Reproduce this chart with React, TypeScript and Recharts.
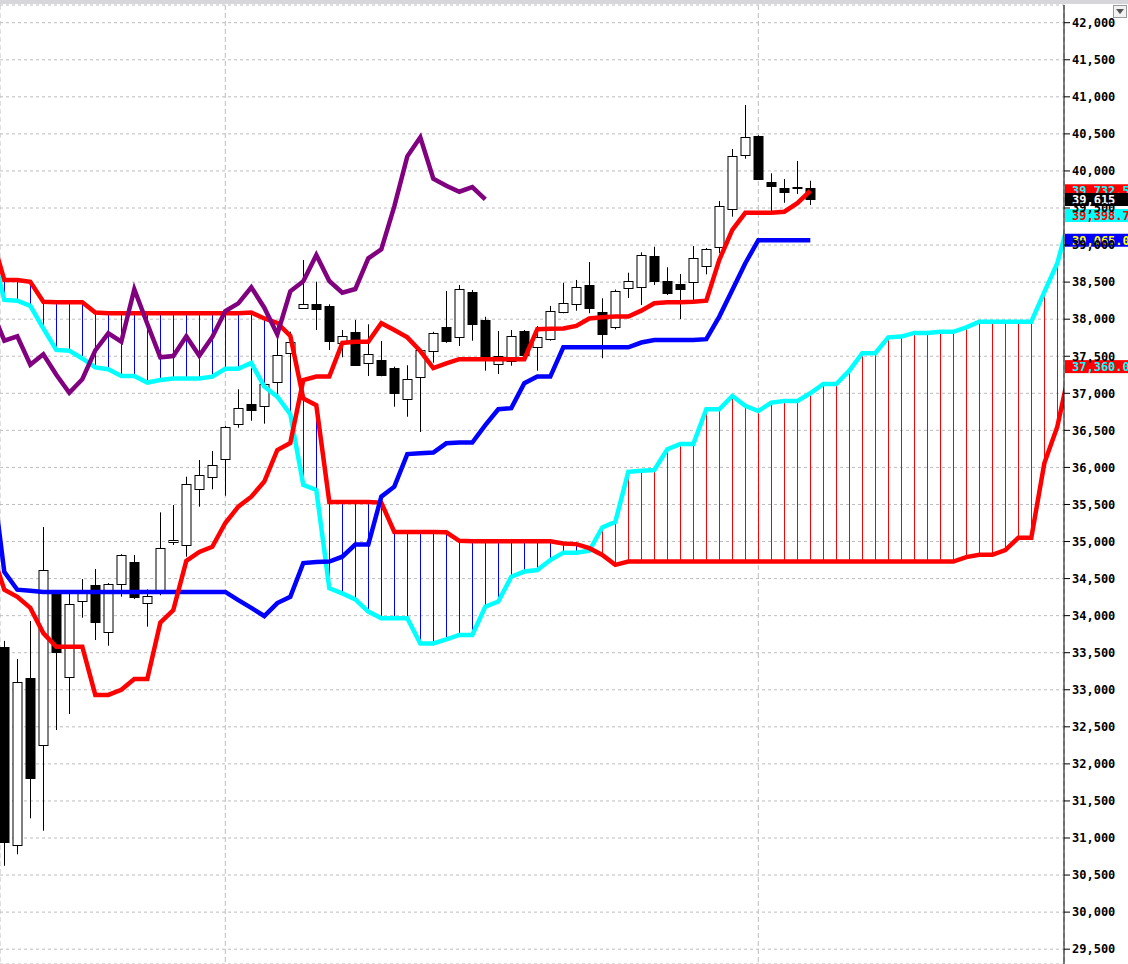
import React from "react";
import {
  ComposedChart,
  Bar,
  Line,
  XAxis,
  YAxis,
  CartesianGrid,
  ReferenceLine,
} from "recharts";

// daily candles, slot 0..62
const opens = [
  33578, 30896, 33155, 32251, 34302, 33168, 34194, 34409, 33775, 34423,
  34720, 34180, 34302, 34990, 34949, 35705, 35867, 36109, 36582, 36851,
  36824, 37148, 37540, 38151, 38209, 38178, 37674, 37827, 37399, 37449,
  37341, 36919, 37216, 37567, 37890, 37755, 38367, 37985, 37391, 37432,
  37836, 37621, 37728, 38093, 38201, 38461, 38093, 37890, 38417, 38438,
  38852, 38515, 38470, 38497, 38713, 38970, 39482, 40211, 40471, 39851,
  39770, 39790, 39770,
];
const highs = [
  33659, 33415, 33928, 35196, 34310, 34346, 34494, 34629, 34440, 34830,
  34819, 34355, 35394, 35493, 35875, 36100, 36221, 36560, 37054, 37337,
  37140, 37854, 37831, 38798, 38506, 38201, 37854, 37989, 37931, 37706,
  37360, 37378, 37600, 37830, 38380, 38461, 38394, 38033, 37840, 37854,
  37854, 37908, 38178, 38492, 38529, 38771, 38282, 38400, 38627, 38902,
  38978, 38700, 38609, 38987, 38960, 39594, 40296, 40890, 40480, 39968,
  39891, 40134, 39868,
];
const lows = [
  30626, 30780, 31266, 31098, 32457, 32673, 33972, 33671, 33594, 34256,
  34224, 33851, 34275, 34953, 34795, 35470, 35705, 35618, 36536, 36630,
  36590, 37140, 37291, 38140, 37854, 37584, 37486, 37370, 37233, 37230,
  36819, 36684, 36478, 37413, 37680, 37638, 37710, 37305, 37260, 37372,
  37459, 37305, 37710, 38080, 38114, 38080, 37472, 37863, 38286, 38191,
  38461, 38326, 38002, 38222, 38605, 38889, 39383, 40165, 39880, 39437,
  39571, 39689, 39540,
];
const closes = [
  30948, 33101, 31800, 34612, 33500, 34153, 34342, 33905, 34423, 34814,
  34242, 34269, 34909, 35017, 35772, 35894, 36028, 36541, 36797, 36770,
  37121, 37513, 37688, 38205, 38141, 37710, 37769, 37386, 37526, 37251,
  37008, 37189, 37580, 37809, 37696, 38403, 37939, 37486, 37503, 37769,
  37507, 37760, 38110, 38214, 38430, 38155, 37796, 38376, 38511, 38866,
  38515, 38357, 38407, 38821, 38943, 39523, 40197, 40454, 39895, 39801,
  39720, 39783, 39615,
];

// indicator lines, all start at slot -1 (just off the left edge)
const tenkan = [
  34890, 34350, 34255, 34105, 33765, 33580, 33580, 33580, 32930, 32930,
  33000, 33145, 33145, 33905, 34075, 34740, 34860, 34930, 35250, 35470,
  35605, 35810, 36235, 36330, 37180, 37225, 37225, 37680, 37695, 37695,
  37945, 37855, 37755, 37570, 37340, 37405, 37460, 37460, 37460, 37460,
  37460, 37460, 37865, 37870, 37875, 37910, 38010, 38025, 38035, 38035,
  38115, 38215, 38230, 38230, 38235, 38250, 38800, 39205, 39435, 39435,
  39435, 39450, 39565, 39732.5,
];
const kijun = [
  35990, 34590, 34350, 34335, 34320, 34320, 34320, 34320, 34320, 34320,
  34320, 34320, 34320, 34320, 34320, 34320, 34320, 34320, 34320, 34210,
  34105, 33995, 34170, 34255, 34710, 34725, 34730, 34795, 34960, 34960,
  35605, 35740, 36180, 36190, 36200, 36325, 36335, 36335, 36570, 36785,
  36800, 37135, 37225, 37225, 37620, 37620, 37620, 37620, 37620, 37620,
  37685, 37720, 37720, 37720, 37720, 37730, 38035, 38395, 38755, 39065,
  39065, 39065, 39065, 39065,
];
const chikou = [
  38141, 37710, 37769, 37386, 37526, 37251, 37008, 37189, 37580, 37809,
  37696, 38403, 37939, 37486, 37503, 37769, 37507, 37760, 38110, 38214,
  38430, 38155, 37796, 38376, 38511, 38866, 38515, 38357, 38407, 38821,
  38943, 39523, 40197, 40454, 39895, 39801, 39720, 39783, 39615,
];
const spanA = [
  39135, 38530, 38530, 38505, 38235, 38230, 38230, 38230, 38090, 38080,
  38080, 38080, 38080, 38080, 38080, 38080, 38080, 38080, 38080, 38080,
  38090, 38010, 37950, 37775, 36930, 36840, 35535, 35535, 35535, 35535,
  35525, 35130, 35130, 35130, 35130, 35125, 35010, 35005, 35005, 35005,
  35005, 35005, 35005, 35005, 34975, 34965, 34910, 34820, 34685, 34730,
  34730, 34730, 34730, 34730, 34730, 34730, 34730, 34730, 34730, 34730,
  34730, 34730, 34730, 34730, 34730, 34730, 34730, 34730, 34730, 34730,
  34730, 34730, 34730, 34730, 34730, 34790, 34820, 34820, 34885, 35050,
  35050, 36055, 36550, 37360,
];
const spanB = [
  38960, 38260, 38250, 38180, 37875, 37585, 37575, 37470, 37350, 37325,
  37235, 37235, 37145, 37180, 37200, 37200, 37200, 37225, 37330, 37330,
  37410, 37090, 36955, 36720, 35765, 35695, 34370, 34300, 34220, 34055,
  33965, 33965, 33965, 33625, 33625, 33680, 33740, 33740, 34120, 34190,
  34525, 34595, 34615, 34750, 34850, 34850, 34875, 35190, 35265, 35940,
  35955, 35965, 36245, 36315, 36315, 36785, 36785, 36965, 36830, 36760,
  36875, 36895, 36895, 37000, 37125, 37125, 37305, 37540, 37540, 37755,
  37765, 37815, 37815, 37830, 37830, 37890, 37965, 37965, 37965, 37965,
  37965, 38365, 38755, 39398.7,
];

const yTicks = [
  29500, 30000, 30500, 31000, 31500, 32000, 32500, 33000, 33500, 34000,
  34500, 35000, 35500, 36000, 36500, 37000, 37500, 38000, 38500, 39000,
  39500, 40000, 40500, 41000, 41500, 42000,
];
const monthStarts = [17, 58];

const FIRST_SLOT = -1;
const X_DOMAIN = [-0.331, 81.515];
const Y_DOMAIN = [29300, 42239];
const MONO = '"DejaVu Sans Mono", "Liberation Mono", monospace';

const rows = spanA.map((a, k) => {
  const slot = k + FIRST_SLOT;
  const b = spanB[k];
  const c = slot >= 0 && slot < closes.length ? slot : -1;
  return {
    slot,
    spanA: a,
    spanB: b,
    hatch: [Math.min(a, b), Math.max(a, b)],
    tenkan: tenkan[k],
    kijun: kijun[k],
    chikou: chikou[k],
    open: c >= 0 ? opens[c] : undefined,
    high: c >= 0 ? highs[c] : undefined,
    low: c >= 0 ? lows[c] : undefined,
    close: c >= 0 ? closes[c] : undefined,
    range: c >= 0 ? [lows[c], highs[c]] : undefined,
  };
});

const fmt1 = (v: number) =>
  v.toLocaleString("en-US", { minimumFractionDigits: 1, maximumFractionDigits: 1 });
const fmt0 = (v: number) => v.toLocaleString("en-US");

const tags = [
  { value: tenkan[tenkan.length - 1], text: fmt1(tenkan[tenkan.length - 1]), bg: "#ff0000", fg: "#00ffff" },
  { value: closes[closes.length - 1], text: fmt0(closes[closes.length - 1]), bg: "#000000", fg: "#ffffff" },
  { value: spanB[spanB.length - 1], text: fmt1(spanB[spanB.length - 1]), bg: "#00ffff", fg: "#ff0000" },
  { value: kijun[kijun.length - 1], text: fmt1(kijun[kijun.length - 1]), bg: "#0000ff", fg: "#ffff00" },
  { value: spanA[spanA.length - 1], text: fmt1(spanA[spanA.length - 1]), bg: "#ff0000", fg: "#00ffff" },
];

function HatchShape(props: any) {
  const { x, y, width, height, payload } = props;
  if (!payload || payload.hatch == null || !isFinite(y) || !isFinite(height)) return null;
  const cx = Math.floor(x + width / 2) + 0.5;
  const color = payload.spanA > payload.spanB ? "#0000ff" : "#ff0000";
  const top = Math.min(y, y + height);
  const bottom = Math.max(y, y + height);
  return <line x1={cx} x2={cx} y1={top} y2={bottom} stroke={color} strokeWidth={1} />;
}

function CandleShape(props: any) {
  const { x, y, width, height, payload } = props;
  if (!payload || payload.open == null || !isFinite(y) || !isFinite(height)) return null;
  const { open, close, high, low } = payload;
  const top0 = Math.min(y, y + height);
  const h = Math.abs(height);
  const span = high - low || 1;
  const toPx = (v: number) => top0 + ((high - v) / span) * h;
  const cx = Math.floor(x + width / 2) + 0.5;
  const bodyTop = toPx(Math.max(open, close));
  const bodyBottom = toPx(Math.min(open, close));
  const up = close > open;
  return (
    <g>
      <line x1={cx} x2={cx} y1={top0} y2={top0 + h} stroke="#000" strokeWidth={1} />
      <rect
        x={cx - 4.5}
        y={Math.round(bodyTop) + 0.5}
        width={9}
        height={Math.max(1, Math.round(bodyBottom - bodyTop))}
        fill={up ? "#ffffff" : "#000000"}
        stroke="#000"
        strokeWidth={1}
      />
    </g>
  );
}

function makeTag(text: string, bg: string, fg: string) {
  return (props: any) => {
    const vb = props.viewBox || {};
    const x0 = (vb.x ?? 0) + (vb.width ?? 0) + 1;
    const yc = vb.y ?? 0;
    return (
      <g>
        <rect x={x0} y={yc - 6.5} width={70} height={13} fill={bg} />
        <text
          x={x0 + 7}
          y={yc}
          dy="0.36em"
          fill={fg}
          fontFamily={MONO}
          fontWeight="bold"
          fontSize={12}
        >
          {text}
        </text>
      </g>
    );
  };
}

function IchimokuChart() {
  return (
    <ComposedChart
      width={1128}
      height={964}
      data={rows}
      margin={{ top: 5, right: 0, bottom: 0, left: 0 }}
    >
      <XAxis xAxisId="c" dataKey="slot" type="number" domain={X_DOMAIN} allowDataOverflow hide ticks={monthStarts} />
      <XAxis xAxisId="h" dataKey="slot" type="number" domain={X_DOMAIN} allowDataOverflow hide ticks={monthStarts} />
      <YAxis
        orientation="right"
        width={64}
        domain={Y_DOMAIN}
        allowDataOverflow
        ticks={yTicks}
        interval={0}
        tickFormatter={(v: number) => fmt0(v)}
        tickSize={6}
        tickMargin={2}
        axisLine={{ stroke: "#000" }}
        tickLine={{ stroke: "#000" }}
        tick={{ fill: "#000", fontSize: 12, fontFamily: MONO, fontWeight: "bold", textAnchor: "start" }}
      />
      <CartesianGrid xAxisId="c" vertical={false} stroke="#bdbdbd" strokeDasharray="3 3" />
      <CartesianGrid xAxisId="c" horizontal={false} stroke="#bdbdbd" strokeDasharray="5 3" />

      <Bar xAxisId="h" dataKey="hatch" barSize={2} shape={(p: any) => <HatchShape {...p} />} isAnimationActive={false} />

      <Line xAxisId="c" type="linear" dataKey="spanB" stroke="#00ffff" strokeWidth={4.5} dot={false} activeDot={false} isAnimationActive={false} />
      <Line xAxisId="c" type="linear" dataKey="spanA" stroke="#ff0000" strokeWidth={4.5} dot={false} activeDot={false} isAnimationActive={false} />
      <Line xAxisId="c" type="linear" dataKey="chikou" stroke="#800080" strokeWidth={4.5} dot={false} activeDot={false} isAnimationActive={false} />
      <Line xAxisId="c" type="linear" dataKey="kijun" stroke="#0000ff" strokeWidth={4.5} dot={false} activeDot={false} isAnimationActive={false} />
      <Line xAxisId="c" type="linear" dataKey="tenkan" stroke="#ff0000" strokeWidth={4.5} dot={false} activeDot={false} isAnimationActive={false} />

      <Bar xAxisId="c" dataKey="range" barSize={9} shape={(p: any) => <CandleShape {...p} />} isAnimationActive={false} />

      {tags.map((t, i) => (
        <ReferenceLine
          key={"tag-" + i}
          xAxisId="c"
          y={t.value}
          stroke="none"
          label={makeTag(t.text, t.bg, t.fg)}
        />
      ))}
    </ComposedChart>
  );
}

export default function App() {
  return (
    <div
      style={{
        position: "absolute",
        left: 0,
        top: 0,
        width: 1128,
        height: 964,
        background: "#ffffff",
        overflow: "hidden",
      }}
    >
      <IchimokuChart />
      <div style={{ position: "absolute", left: 0, top: 0, width: 1128, height: 4, background: "#d7d7db" }} />
      <div
        style={{
          position: "absolute",
          left: 1113,
          top: 5,
          width: 12,
          height: 11,
          border: "1px solid #9a9a9a",
          background: "#f2f2f2",
        }}
      >
        <svg width={12} height={11} style={{ display: "block" }}>
          <polygon points="2,3 10,3 6,8" fill="#505050" />
        </svg>
      </div>
    </div>
  );
}
